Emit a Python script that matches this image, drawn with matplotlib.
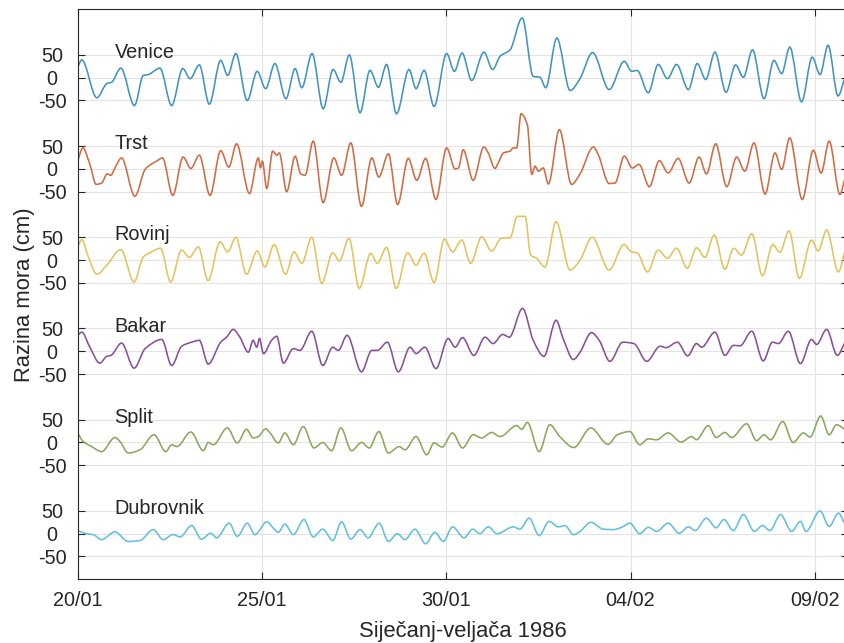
import numpy as np
import matplotlib
matplotlib.use('Agg')
import matplotlib.pyplot as plt
from matplotlib.path import Path
from matplotlib.patches import PathPatch

plt.rcParams['font.family'] = ['Liberation Sans', 'DejaVu Sans']

# time in days from 20/01/1986 00:00, sea level in cm
venice_t = [0.00, 0.11, 0.52, 0.79, 0.92, 1.17, 1.54, 1.78, 1.92, 2.23, 2.55, 2.85, 3.05, 3.30, 3.57,
            3.88, 4.07, 4.29, 4.60, 4.87, 5.10, 5.35, 5.65, 5.90, 6.08, 6.36, 6.66, 6.93, 7.14, 7.37,
            7.66, 7.93, 8.16, 8.38, 8.65, 8.99, 9.18, 9.40, 9.67, 10.01, 10.22, 10.43, 10.69, 11.02,
            11.26, 11.46, 11.73, 12.06, 12.36, 12.54, 12.70, 13.00, 13.36, 13.63, 13.97, 14.42, 14.83,
            15.03, 15.18, 15.48, 15.75, 16.00, 16.25, 16.57, 16.81, 17.04, 17.29, 17.59, 17.85, 18.06,
            18.31, 18.62, 18.89, 19.10, 19.32, 19.64, 19.93, 20.14, 20.36, 20.63, 20.82]
venice_v = [23, 39, -44, -13, -10, 21, -61, 5, 7, 21, -61, 20, -2, 28, -58,
            38, 5, 53, -50, 14, -24, 31, -46, 20, -22, 53, -68, 18, -10, 50,
            -77, 16, -21, 29, -79, 18, -24, 16, -63, 53, 14, 54, -6, 56,
            18, 47, 61, 131, 3, 1, -22, 87, -28, -2, 55, -26, 36,
            14, 16, -33, 29, -2, 29, -26, 31, -4, 56, -32, 28, 1,
            61, -46, 38, 9, 67, -53, 45, 7, 71, -40, 1]

trst_t = [0.00, 0.14, 0.33, 0.50, 0.65, 0.80, 0.90, 1.01, 1.19, 1.55, 1.83, 2.01, 2.14, 2.30, 2.58,
          2.86, 3.07, 3.30, 3.59, 3.88, 4.10, 4.31, 4.66, 4.90, 4.96, 5.01, 5.13, 5.29, 5.40, 5.47,
          5.67, 5.90, 6.05, 6.17, 6.39, 6.66, 6.95, 7.16, 7.41, 7.70, 7.98, 8.17, 8.43, 8.68, 8.97,
          9.20, 9.44, 9.72, 10.01, 10.24, 10.33, 10.46, 10.73, 11.02, 11.14, 11.32, 11.41, 11.55,
          11.73, 11.82, 11.91, 12.03, 12.20, 12.32, 12.41, 12.50, 12.63, 12.77, 13.07, 13.40, 13.63,
          13.99, 14.12, 14.42, 14.58, 14.83, 15.05, 15.23, 15.51, 15.78, 16.02, 16.29, 16.59, 16.86,
          17.06, 17.31, 17.61, 17.88, 18.10, 18.35, 18.65, 18.92, 19.10, 19.32, 19.66, 19.96, 20.17,
          20.39, 20.68, 20.82]
trst_v = [18, 46, 10, -34, -31, -11, -14, 2, 24, -60, -1, 11, 17, 24, -58,
          26, 1, 30, -58, 40, 4, 55, -54, 24, 2, 17, -43, 39, 30, 35,
          -50, 28, -11, -14, 61, -74, 24, -14, 57, -82, 24, -18, 33, -78, 23,
          -25, 23, -67, 46, 0, 2, 42, -25, 48, 35, 1, 13, 35,
          39, 46, 46, 121, 97, -12, 6, -5, 2, -33, 86, -34, -11,
          48, 32, -32, -31, 28, 2, 10, -39, 18, -9, 23, -31, 26,
          -11, 55, -39, 26, -5, 57, -55, 35, -1, 68, -67, 41, -9,
          61, -56, -20]

rovinj_t = [0.00, 0.11, 0.29, 0.52, 0.79, 1.17, 1.53, 1.78, 1.96, 2.25, 2.52, 2.82, 3.03, 3.27, 3.54,
            3.86, 4.07, 4.29, 4.58, 4.87, 5.08, 5.33, 5.64, 5.87, 6.08, 6.35, 6.62, 6.92, 7.10, 7.36,
            7.64, 7.95, 8.13, 8.38, 8.64, 8.95, 9.18, 9.40, 9.67, 9.95, 10.17, 10.42, 10.66, 10.96,
            11.23, 11.50, 11.73, 11.93, 12.14, 12.29, 12.45, 12.68, 12.98, 13.36, 13.63, 13.96, 14.42,
            14.82, 15.03, 15.18, 15.46, 15.75, 16.00, 16.25, 16.54, 16.79, 17.02, 17.27, 17.56, 17.80,
            18.01, 18.29, 18.58, 18.86, 19.05, 19.30, 19.58, 19.91, 20.09, 20.32, 20.64, 20.82]
rovinj_v = [29, 45, 7, -31, -11, 23, -48, 7, 16, 26, -48, 22, 6, 29, -45,
            40, 18, 50, -31, 20, -15, 34, -31, 18, -7, 50, -51, 16, -2, 48,
            -62, 15, -7, 28, -62, 16, -11, 15, -49, 46, 18, 44, -7, 51,
            20, 48, 49, 96, 96, 11, 4, -15, 84, -22, 0, 50, -22,
            34, 18, 16, -26, 22, 4, 26, -18, 27, 6, 55, -20, 26,
            11, 58, -34, 34, 17, 64, -40, 44, 20, 66, -26, 22]

bakar_t = [0.00, 0.11, 0.33, 0.60, 0.79, 0.90, 1.19, 1.53, 1.83, 2.28, 2.55, 2.82, 3.09, 3.30, 3.54,
           3.88, 4.04, 4.22, 4.40, 4.63, 4.76, 4.86, 4.93, 5.04, 5.26, 5.40, 5.58, 5.85, 6.03, 6.35,
           6.65, 6.92, 7.07, 7.31, 7.70, 7.98, 8.13, 8.40, 8.70, 9.02, 9.18, 9.42, 9.72, 10.05,
           10.24, 10.44, 10.75, 11.05, 11.27, 11.53, 11.71, 12.07, 12.36, 12.65, 12.98, 13.17, 13.45,
           13.63, 13.94, 14.15, 14.44, 14.79, 15.09, 15.44, 15.80, 15.96, 16.27, 16.55, 16.79, 16.93,
           17.29, 17.56, 17.79, 17.97, 18.29, 18.60, 18.85, 19.01, 19.28, 19.61, 19.91, 20.05, 20.32,
           20.61, 20.82]
bakar_v = [35, 42, 9, -26, -11, -9, 18, -37, 6, 26, -31, 11, 20, 24, -28,
           20, 31, 48, 31, -2, 24, 9, 28, -5, 24, 33, -26, 6, 2, 44,
           -31, 9, 2, 35, -45, 2, 2, 20, -45, 9, -5, 9, -38, 28,
           9, 30, -9, 31, 17, 37, 31, 94, 24, -11, 68, 28, -18,
           -2, 41, 24, -22, 20, 17, -22, 11, 8, 20, -10, 17, 9,
           42, -9, 13, 12, 44, -21, 20, 17, 44, -27, 26, 15, 48,
           -9, 20]

split_t = [0.00, 0.15, 0.38, 0.65, 1.01, 1.15, 1.37, 1.69, 2.07, 2.39, 2.55, 2.69, 3.07, 3.41, 3.54,
           3.68, 4.06, 4.33, 4.58, 4.76, 4.90, 5.10, 5.22, 5.44, 5.62, 5.85, 6.12, 6.41, 6.65, 6.89,
           7.14, 7.43, 7.70, 7.91, 8.17, 8.43, 8.72, 8.88, 9.18, 9.47, 9.67, 9.89, 10.17, 10.44,
           10.73, 10.96, 11.23, 11.46, 11.91, 12.05, 12.20, 12.52, 12.81, 13.08, 13.46, 13.92, 14.39,
           14.64, 14.98, 15.25, 15.48, 15.71, 16.02, 16.37, 16.66, 16.79, 17.11, 17.32, 17.56, 17.74,
           18.15, 18.42, 18.62, 18.80, 19.13, 19.41, 19.69, 19.87, 20.16, 20.39, 20.59, 20.82]
split_v = [21, 2, -9, -20, 11, 2, -23, -16, 17, -20, -5, -9, 23, -18, 0,
           -5, 32, -1, 29, 10, 13, 30, 21, -1, 21, -5, 35, -12, 0, -18,
           32, -18, 0, -12, 24, -23, -9, -16, 13, -27, -1, -10, 21, -12,
           17, 10, 22, 13, 37, 29, 44, -20, 39, 13, -11, 32, -4,
           17, 24, -5, 8, 6, 21, 1, 13, 6, 37, 11, 22, 11,
           41, 4, 17, 6, 46, 0, 21, 12, 58, 17, 39, 28]

dubrovnik_t = [0.00, 0.24, 0.42, 0.65, 1.01, 1.37, 1.69, 2.05, 2.32, 2.58, 2.78, 3.09, 3.36, 3.61,
               3.77, 4.11, 4.33, 4.60, 4.81, 5.13, 5.31, 5.44, 5.62, 5.85, 6.14, 6.39, 6.65, 6.92,
               7.16, 7.41, 7.66, 7.88, 8.18, 8.43, 8.67, 8.88, 9.15, 9.44, 9.69, 9.92, 10.17, 10.48,
               10.72, 10.91, 11.14, 11.38, 11.82, 12.00, 12.25, 12.52, 12.79, 13.04, 13.22, 13.45,
               13.63, 13.92, 14.26, 14.53, 14.76, 14.98, 15.25, 15.48, 15.71, 16.02, 16.32, 16.57,
               16.75, 17.06, 17.32, 17.53, 17.79, 18.06, 18.36, 18.58, 18.78, 19.07, 19.37, 19.61,
               19.76, 20.14, 20.39, 20.64, 20.82]
dubrovnik_v = [7, 0, -2, -13, 4, -17, -15, 9, -13, -2, -7, 18, -12, 1,
               -9, 23, -6, 23, -2, 26, 12, 3, 21, -2, 31, -7, 10, -15,
               26, -12, 9, -9, 23, -17, 0, -13, 10, -22, 3, -17, 15, -9,
               10, 0, 15, 0, 15, 10, 34, -4, 27, 15, 18, -2,
               5, 25, 10, 9, 14, 23, 0, 14, 5, 23, 1, 15,
               7, 34, 13, 31, 7, 42, 5, 18, 7, 42, 5, 27,
               5, 50, 16, 45, 20]

stations = ['Venice', 'Trst', 'Rovinj', 'Bakar', 'Split', 'Dubrovnik']
offsets = [1000, 800, 600, 400, 200, 0]
colors = ['#4294c0', '#cf6c44', '#e3c35e', '#88509a', '#8ba95b', '#63c0df']
series = [(venice_t, venice_v), (trst_t, trst_v), (rovinj_t, rovinj_v),
          (bakar_t, bakar_v), (split_t, split_v), (dubrovnik_t, dubrovnik_v)]

date_ticks = [0, 5, 10, 15, 20]
date_labels = ['20/01', '25/01', '30/01', '04/02', '09/02']


def smooth_path(t, v):
    # cubic bezier through the read points, flat at the turning points
    t = np.asarray(t, float)
    v = np.asarray(v, float)
    h = np.diff(t)
    d = np.diff(v) / h
    m = np.zeros_like(v)
    for i in range(1, len(v) - 1):
        if d[i - 1] * d[i] > 0:
            m[i] = 2.0 / (1.0 / d[i - 1] + 1.0 / d[i])
    m[0] = d[0]
    m[-1] = d[-1]
    verts = [(t[0], v[0])]
    codes = [Path.MOVETO]
    for i in range(len(t) - 1):
        verts += [(t[i] + h[i] / 3, v[i] + m[i] * h[i] / 3),
                  (t[i + 1] - h[i] / 3, v[i + 1] - m[i + 1] * h[i] / 3),
                  (t[i + 1], v[i + 1])]
        codes += [Path.CURVE4] * 3
    return Path(verts, codes)


fig = plt.figure(figsize=(8.45, 6.43), dpi=100)
ax = fig.add_axes([77.7 / 845, 1 - 579.3 / 643, (848 - 77.7) / 845, (579.3 - 9.3) / 643])

for (t, v), off, c, name in zip(series, offsets, colors, stations):
    p = smooth_path(t, np.array(v) + off)
    ax.add_patch(PathPatch(p, fill=False, edgecolor=c, lw=1.15))
    ax.text(1.0, off + 43, name, fontsize=14.3, color='#262626', va='baseline')

yt = []
yl = []
for off in offsets:
    for d in (-50, 0, 50):
        yt.append(off + d)
        yl.append(str(d))
ax.set_yticks(yt)
ax.set_yticklabels(yl, ha='center')
ax.set_xticks(date_ticks)
ax.set_xticklabels(date_labels)
ax.set_xlim(0, 20.90)
ax.set_ylim(-100, 1150)

ax.grid(True, color='#e3e3e3', lw=0.8)
ax.set_axisbelow(True)
ax.tick_params(direction='in', length=5, width=0.8, colors='#262626', labelsize=14.3,
               top=True, right=True)
ax.tick_params(axis='y', pad=18.5)
ax.tick_params(axis='x', pad=8.5)
for s in ax.spines.values():
    s.set_color('#262626')
    s.set_linewidth(0.8)

ax.set_xlabel('Siječanj-veljača 1986', fontsize=15.8, color='#262626', labelpad=7.5)
ax.set_ylabel('Razina mora (cm)', fontsize=15.8, color='#262626', labelpad=2)

fig.savefig('out.png', dpi=100)
